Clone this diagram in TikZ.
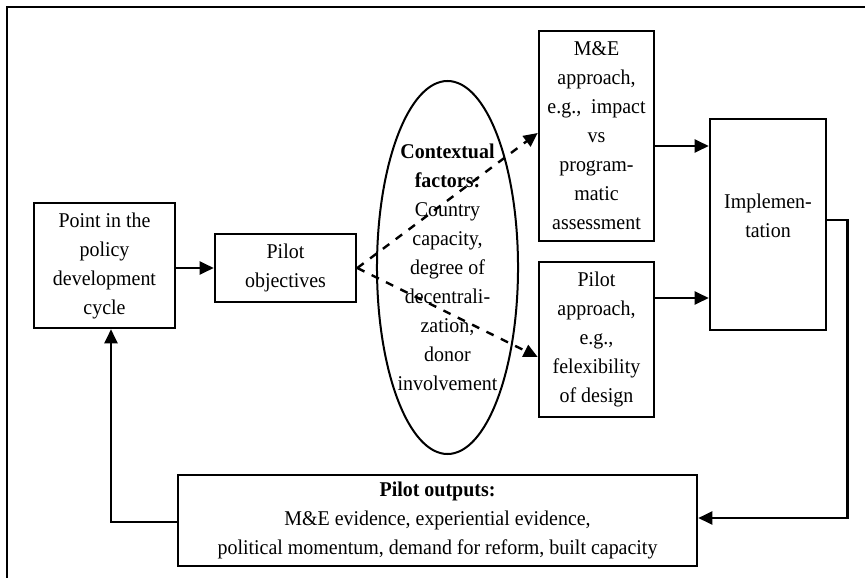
\documentclass[tikz,border=0pt]{standalone}
\usepackage{fontspec}
\setmainfont{Liberation Serif}[FakeStretch=0.95]
\usetikzlibrary{arrows.meta,shapes.geometric}

\begin{document}
\begin{tikzpicture}[x=1pt,y=-1pt,
  every node/.style={font=\fontsize{21}{29}\selectfont, align=center, inner sep=0pt},
  box/.style={draw, line width=2.6pt, rectangle},
  flow/.style={-{Triangle[length=14pt,width=13pt]}, line width=2.4pt},
  influence/.style={flow, dash pattern=on 8pt off 8pt}]
  \useasboundingbox (0,0) rectangle (865,578);
  \clip (0,0) rectangle (865,578);
  % Outer frame (runs off the page at right and bottom)
  \draw[line width=2.8pt] (7,7) rectangle (900,620);
  % Stages
  \node (cycle) [box, minimum width=141pt, minimum height=125pt] at (104.5,265.5)
    {Point in the\\policy\\development\\cycle};
  \node (obj) [box, minimum width=141pt, minimum height=68pt] at (285.5,268)
    {Pilot\\objectives};
  \node (ctx) [draw, ellipse, line width=2pt, minimum width=141pt, minimum height=373pt] at (447.5,267.5)
    {\textbf{Contextual}\\\textbf{factors:}\\Country\\capacity,\\degree of\\decentrali-\\zation,\\donor\\involvement};
  \node (me) [box, minimum width=115pt, minimum height=210pt] at (596.5,136)
    {M\&E\\approach,\\e.g.,~ impact\\vs\\program-\\matic\\assessment};
  \node (pa) [box, minimum width=115pt, minimum height=155pt] at (596.5,339.5)
    {Pilot\\approach,\\e.g.,\\felexibility\\of design};
  \node (impl) [box, minimum width=116pt, minimum height=211pt] at (768,224.5) {};
  \node (impltxt) at (768,216) {Implemen-\\tation};
  \node (out) [box, minimum width=519pt, minimum height=91pt] at (437.5,520.5)
    {\textbf{Pilot outputs:}\\M\&E evidence, experiential evidence,\\political momentum, demand for reform, built capacity};
  % Forward flow
  \draw[flow] (cycle.east |- obj.west) -- (obj.west);
  \draw[influence] (obj.east) -- ([yshift=3pt]me.west);
  \draw[influence] (obj.east) -- ([yshift=-17.5pt]pa.west);
  \draw[flow] ([yshift=-10pt]me.east) -- ([yshift=-10pt]me.east -| impl.west);
  \draw[flow] ([yshift=41.5pt]pa.east) -- ([yshift=41.5pt]pa.east -| impl.west);
  % Feedback loop
  \draw[flow] ([yshift=4.5pt]impl.east) -- ++(20,0) |- ([yshift=2.5pt]out.east);
  \draw[flow] ([yshift=-1.5pt]out.west) -| ([xshift=6.5pt]cycle.south);
\end{tikzpicture}
\end{document}
